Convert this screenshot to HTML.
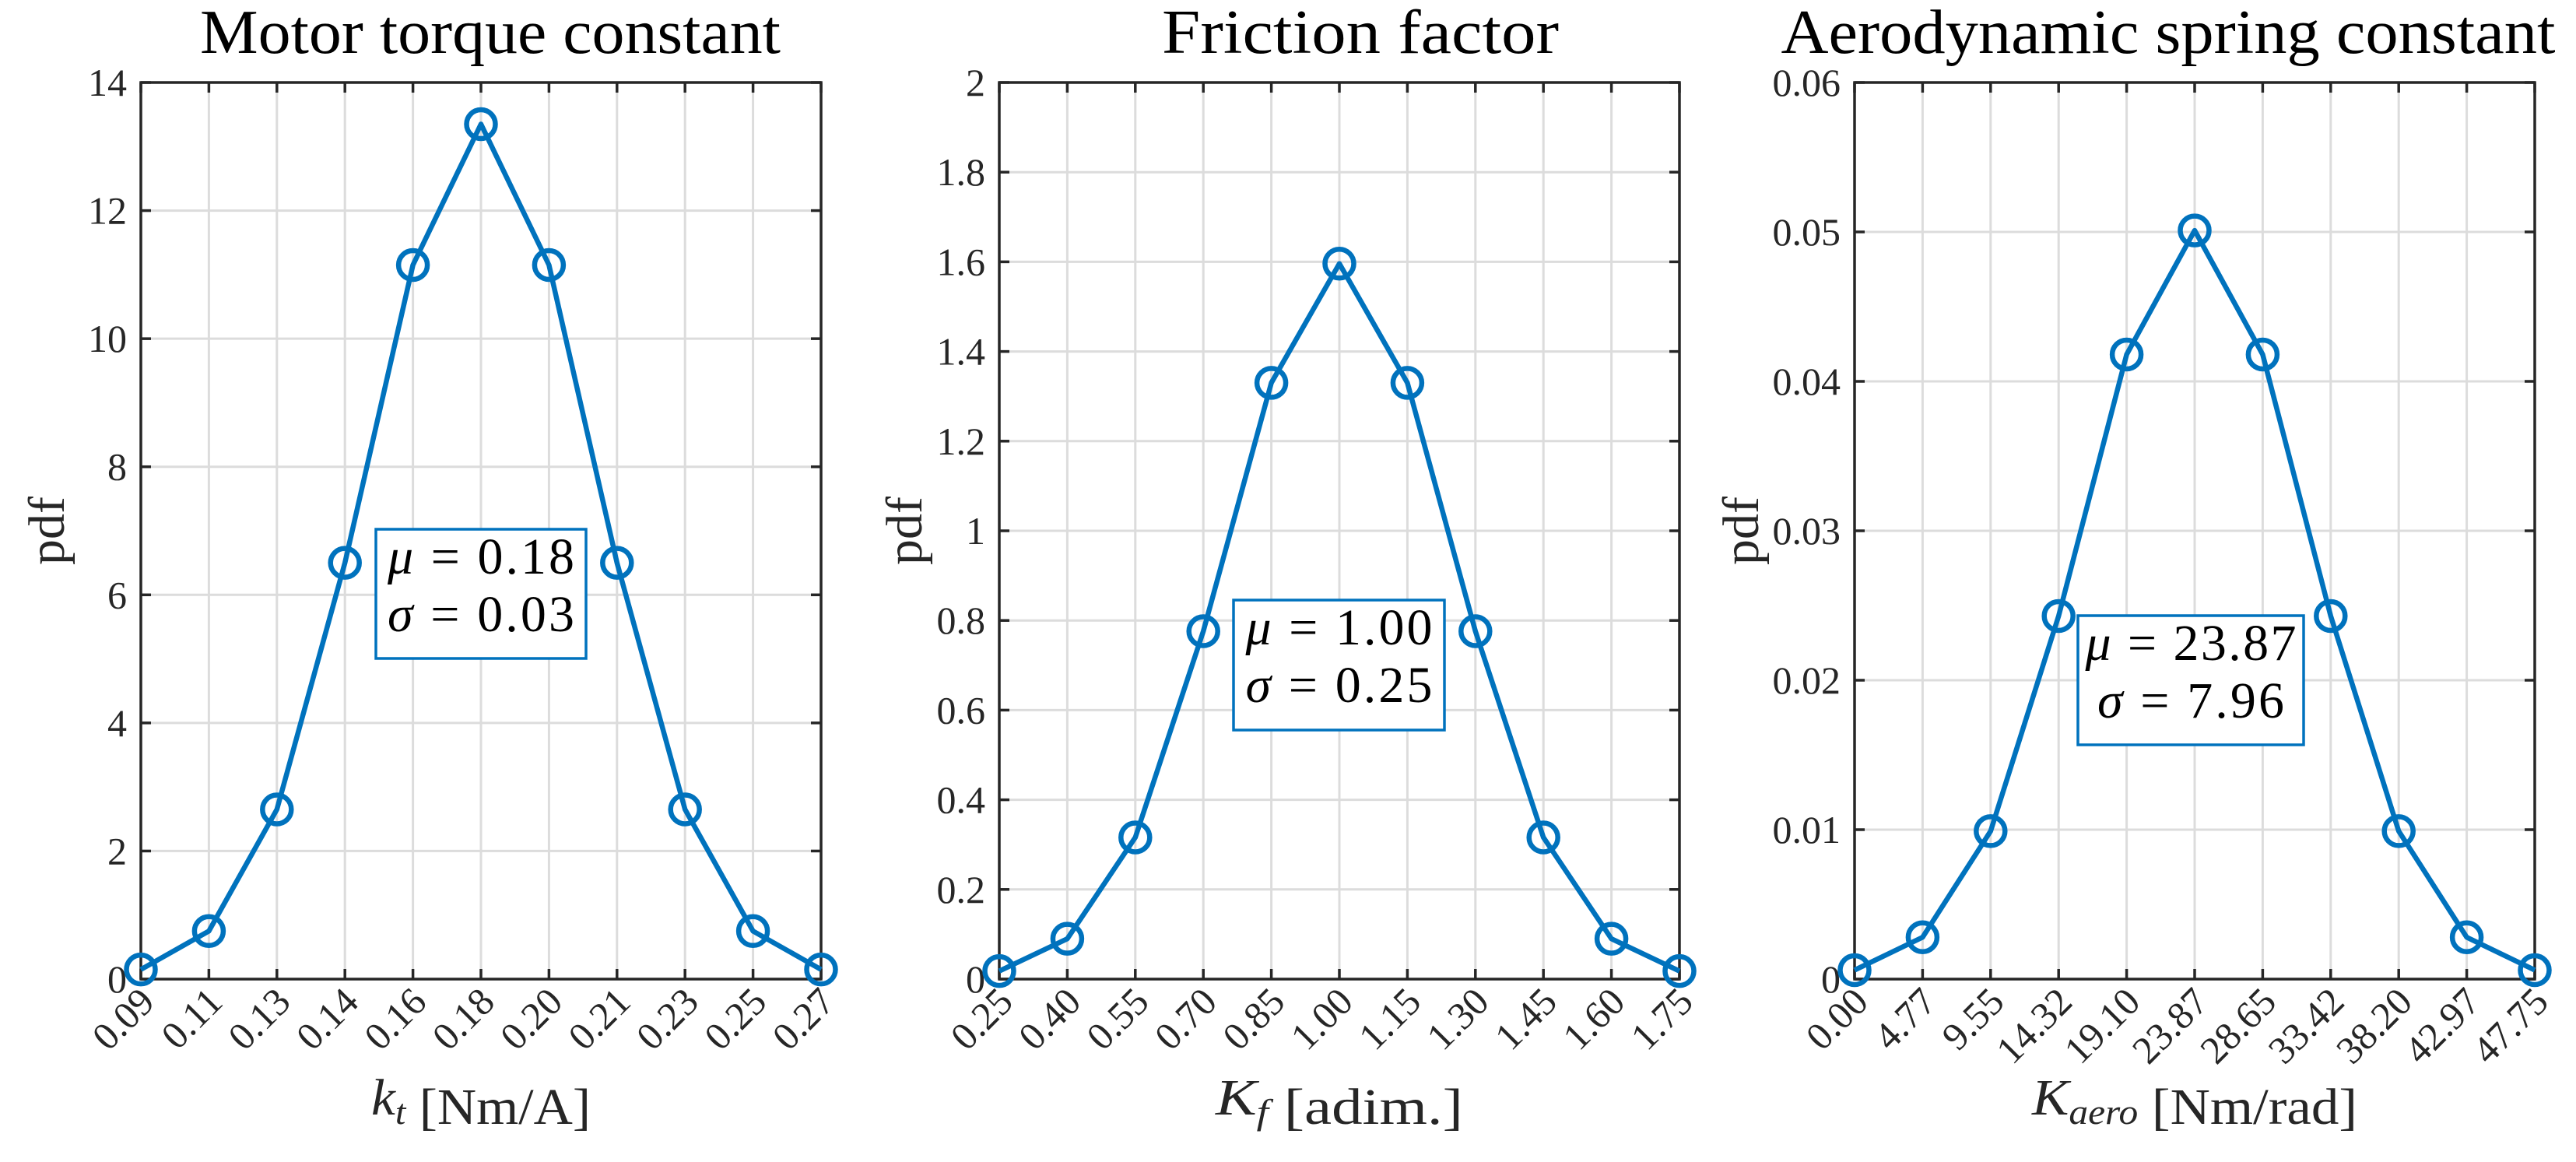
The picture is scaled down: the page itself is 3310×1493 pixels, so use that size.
<!DOCTYPE html>
<html><head><meta charset="utf-8"><style>
html,body{margin:0;padding:0;background:#fff;}
svg{display:block;font-family:"Liberation Serif","DejaVu Serif",serif;}
</style></head><body>
<svg id="fig" width="3310" height="1493" viewBox="0 0 3310 1493" xmlns="http://www.w3.org/2000/svg"></svg>
<script>
// ---- data ----
const ktLabels = ["0.09","0.11","0.13","0.14","0.16","0.18","0.20","0.21","0.23","0.25","0.27"];
const ktValues = [0.15,0.75,2.65,6.5,11.15,13.35,11.15,6.5,2.65,0.75,0.15];
const ktYTicks = [0,2,4,6,8,10,12,14];
const ktYLabels = ["0","2","4","6","8","10","12","14"];

const kfLabels = ["0.25","0.40","0.55","0.70","0.85","1.00","1.15","1.30","1.45","1.60","1.75"];
const kfValues = [0.018,0.09,0.316,0.776,1.33,1.596,1.33,0.776,0.316,0.09,0.018];
const kfYTicks = [0,0.2,0.4,0.6,0.8,1,1.2,1.4,1.6,1.8,2];
const kfYLabels = ["0","0.2","0.4","0.6","0.8","1","1.2","1.4","1.6","1.8","2"];

const kaLabels = ["0.00","4.77","9.55","14.32","19.10","23.87","28.65","33.42","38.20","42.97","47.75"];
const kaValues = [0.0006,0.0028,0.0099,0.0243,0.0418,0.0501,0.0418,0.0243,0.0099,0.0028,0.0006];
const kaYTicks = [0,0.01,0.02,0.03,0.04,0.05,0.06];
const kaYLabels = ["0","0.01","0.02","0.03","0.04","0.05","0.06"];

const NS="http://www.w3.org/2000/svg";
const svg=document.getElementById('fig');
function mk(tag,attrs,parent){const e=document.createElementNS(NS,tag);for(const k in attrs)e.setAttribute(k,attrs[k]);(parent||svg).appendChild(e);return e;}

const panels=[
 {id:'torque',left:181,title:'Motor torque constant',tx:630,tw:746,labels:ktLabels,values:ktValues,yt:ktYTicks,yl:ktYLabels,ymax:14,
  xlab:[['k','italic',''],['t','italic','sub'],[' [Nm/A]','normal','']],xw:282,ylabX:82,
  box:{x:483,y:680,w:270,h:166},mu:'0.18',sg:'0.03',w1:240,w2:240},
 {id:'friction',left:1284,title:'Friction factor',tx:1748,tw:510,labels:kfLabels,values:kfValues,yt:kfYTicks,yl:kfYLabels,ymax:2,
  xlab:[['K','italic',''],['f','italic','sub'],[' [adim.]','normal','']],xw:318,ylabX:1184,
  box:{x:1585,y:771,w:271,h:167},mu:'1.00',sg:'0.25',w1:240,w2:240},
 {id:'aero',left:2383,title:'Aerodynamic spring constant',tx:2786,tw:995,labels:kaLabels,values:kaValues,yt:kaYTicks,yl:kaYLabels,ymax:0.06,
  xlab:[['K','italic',''],['aero','italic','sub'],[' [Nm/rad]','normal','']],xw:418,ylabX:2259,
  box:{x:2670,y:791,w:290,h:166},mu:'23.87',sg:'7.96',w1:271,w2:240}
];
const W=874,TOP=106,H=1152,BOT=TOP+H;

panels.forEach(p=>{
  const g=mk('g',{});
  
  
  const n=p.labels.length;
  const xs=i=>p.left+i*W/(n-1);
  const ys=v=>BOT-v/p.ymax*H;
  // grid
  p.labels.forEach((l,i)=>{
    const gl=mk('line',{x1:xs(i),x2:xs(i),y1:TOP,y2:BOT,stroke:'#dcdcdc','stroke-width':3},g);
    
    
  });
  p.yt.forEach(v=>{
    const gl=mk('line',{x1:p.left,x2:p.left+W,y1:ys(v),y2:ys(v),stroke:'#dcdcdc','stroke-width':3},g);
    
    
  });
  // ticks
  p.labels.forEach((l,i)=>{
    mk('line',{x1:xs(i),x2:xs(i),y1:BOT,y2:BOT-13,stroke:'#262626','stroke-width':3.5},g);
    mk('line',{x1:xs(i),x2:xs(i),y1:TOP,y2:TOP+13,stroke:'#262626','stroke-width':3.5},g);
    const t=mk('text',{x:0,y:0,'font-size':50,fill:'#262626','text-anchor':'end',
      transform:`translate(${xs(i)+20},${BOT+32}) rotate(-45)`},g);
    t.textContent=l;
    
    
  });
  p.yt.forEach((v,j)=>{
    mk('line',{x1:p.left,x2:p.left+13,y1:ys(v),y2:ys(v),stroke:'#262626','stroke-width':3.5},g);
    mk('line',{x1:p.left+W,x2:p.left+W-13,y1:ys(v),y2:ys(v),stroke:'#262626','stroke-width':3.5},g);
    const t=mk('text',{x:p.left-18,y:ys(v)+17,'font-size':50,fill:'#262626','text-anchor':'end'},g);
    t.textContent=p.yl[j];
    
    
  });
  // axes box
  const ax=mk('rect',{x:p.left,y:TOP,width:W,height:H,fill:'none',stroke:'#262626','stroke-width':3.5},g);
  
  
  // series
  const pts=p.values.map((v,i)=>xs(i)+','+ys(v)).join(' ');
  const pl=mk('polyline',{points:pts,fill:'none',stroke:'#0072BD','stroke-width':6.5,'stroke-linejoin':'round'},g);
  
  
  p.values.forEach((v,i)=>{
    const c=mk('circle',{cx:xs(i),cy:ys(v),r:18.5,fill:'none',stroke:'#0072BD','stroke-width':6.5},g);
    
    
  });
  // textbox
  const b=p.box;
  const br=mk('rect',{x:b.x,y:b.y,width:b.w,height:b.h,fill:'#fff',stroke:'#0072BD','stroke-width':3.5},g);
  
  
  const cx=b.x+b.w/2;
  const t1=mk('text',{x:cx,y:b.y+57,'font-size':66,fill:'#000','text-anchor':'middle',textLength:p.w1,lengthAdjust:'spacing'},g);
  t1.innerHTML='<tspan font-style="italic">μ</tspan> = '+p.mu;
  
  
  const t2=mk('text',{x:cx,y:b.y+131,'font-size':66,fill:'#000','text-anchor':'middle',textLength:p.w2,lengthAdjust:'spacing'},g);
  t2.innerHTML='<tspan font-style="italic">σ</tspan> = '+p.sg;
  
  
  // title
  const tt=mk('text',{x:p.tx,y:68,'font-size':80,fill:'#000','text-anchor':'middle',textLength:p.tw,lengthAdjust:'spacingAndGlyphs'},g);
  tt.textContent=p.title;
  
  
  // x label
  const xl=mk('text',{x:p.left+W/2,y:1432,'font-size':66,fill:'#262626','text-anchor':'middle',textLength:p.xw,lengthAdjust:'spacingAndGlyphs'},g);
  let html='';
  p.xlab.forEach(([s,st,sub])=>{
    if(sub) html+=`<tspan font-style="${st}" font-size="46" dy="12">${s}</tspan><tspan dy="-12"></tspan>`;
    else html+=`<tspan font-style="${st}">${s}</tspan>`;
  });
  xl.innerHTML=html;
  
  
  // y label
  const yl=mk('text',{x:0,y:0,'font-size':66,fill:'#262626','text-anchor':'middle',
    transform:`translate(${p.ylabX},${TOP+H/2}) rotate(-90)`},g);
  yl.textContent='pdf';
  
  
});
</script>
</body></html>
